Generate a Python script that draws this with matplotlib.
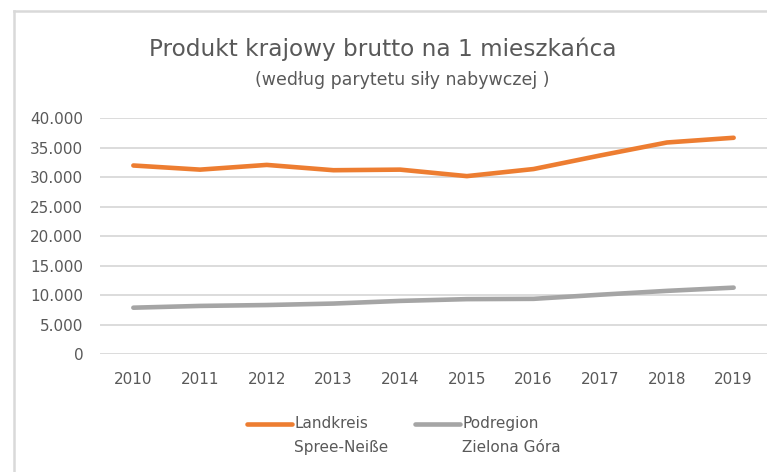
import matplotlib
matplotlib.use("Agg")
import matplotlib.pyplot as plt
from matplotlib.ticker import FuncFormatter, MultipleLocator
from matplotlib.legend_handler import HandlerLine2D
from matplotlib.lines import Line2D

years = ["2010", "2011", "2012", "2013", "2014", "2015", "2016", "2017", "2018", "2019"]
spree_neisse = [32000, 31300, 32100, 31200, 31300, 30200, 31400, 33700, 35900, 36700]
zielona_gora = [7900, 8200, 8350, 8600, 9050, 9350, 9400, 10100, 10750, 11300]
series_labels = ["Landkreis\nSpree-Neiße", "Podregion\nZielona Góra"]
title = "Produkt krajowy brutto na 1 mieszkańca"
subtitle = "(według parytetu siły nabywczej )"

ORANGE = "#ED7D31"
GRAY = "#A5A5A5"
TEXT = "#595959"
GRID = "#D9D9D9"

plt.rcParams['font.family'] = ['DejaVu Sans']

W, H = 767, 472
fig = plt.figure(figsize=(W / 100, H / 100), dpi=100)

# chart frame (partially visible left/top edges)
fig.add_artist(Line2D([14 / W, 14 / W], [0, 1 - 11 / H], color=GRID, lw=1.8,
                      transform=fig.transFigure))
fig.add_artist(Line2D([14 / W, 1], [1 - 11 / H, 1 - 11 / H], color=GRID, lw=1.8,
                      transform=fig.transFigure))

left_px, right_px = 100, 767
top_px, bot_px = 118.3, 354.3
ax = fig.add_axes([left_px / W, 1 - bot_px / H, (right_px - left_px) / W, (bot_px - top_px) / H])

x = list(range(len(years)))
ax.plot(x, spree_neisse, color=ORANGE, lw=3.3, solid_capstyle='round', solid_joinstyle='round',
        label=series_labels[0])
ax.plot(x, zielona_gora, color=GRAY, lw=3.3, solid_capstyle='round', solid_joinstyle='round',
        label=series_labels[1])

ax.set_xlim(-0.5, len(years) - 0.5)
ax.set_ylim(0, 40000)
ax.set_xticks(x)
ax.set_xticklabels(years)
ax.yaxis.set_major_locator(MultipleLocator(5000))
ax.yaxis.set_major_formatter(FuncFormatter(lambda v, p: f"{int(v):,}".replace(",", ".")))
ax.grid(axis='y', color=GRID, lw=1.3)
ax.set_axisbelow(True)
for s in ax.spines.values():
    s.set_visible(False)
ax.tick_params(axis='both', length=0, colors=TEXT, labelsize=11)
ax.tick_params(axis='y', pad=12)
ax.tick_params(axis='x', pad=13)

fig.text(383 / W, 1 - 49 / H, title, ha='center', va='center', fontsize=16.7, color=TEXT)
fig.text(402 / W, 1 - 80 / H, subtitle, ha='center', va='center', fontsize=12.5, color=TEXT)


class TopLineHandler(HandlerLine2D):
    def create_artists(self, legend, orig_handle, xdescent, ydescent, width, height, fontsize, trans):
        arts = super().create_artists(legend, orig_handle, xdescent, ydescent, width, height, fontsize, trans)
        for a in arts:
            yd = a.get_ydata()
            a.set_ydata([v + fontsize * 0.79 for v in yd])
        return arts


handles = [Line2D([], [], color=ORANGE, lw=3.3, solid_capstyle='round'),
           Line2D([], [], color=GRAY, lw=3.3, solid_capstyle='round')]
leg = fig.legend(handles, series_labels, loc='upper left', bbox_to_anchor=(233 / W, 1 - 402 / H),
                 ncol=2, frameon=False, fontsize=11, handlelength=2.95, handletextpad=0.15,
                 columnspacing=1.75, labelcolor=TEXT,
                 handler_map={Line2D: TopLineHandler()})
for t in leg.get_texts():
    t.set_linespacing(1.73)

fig.savefig("out.png", dpi=100)
